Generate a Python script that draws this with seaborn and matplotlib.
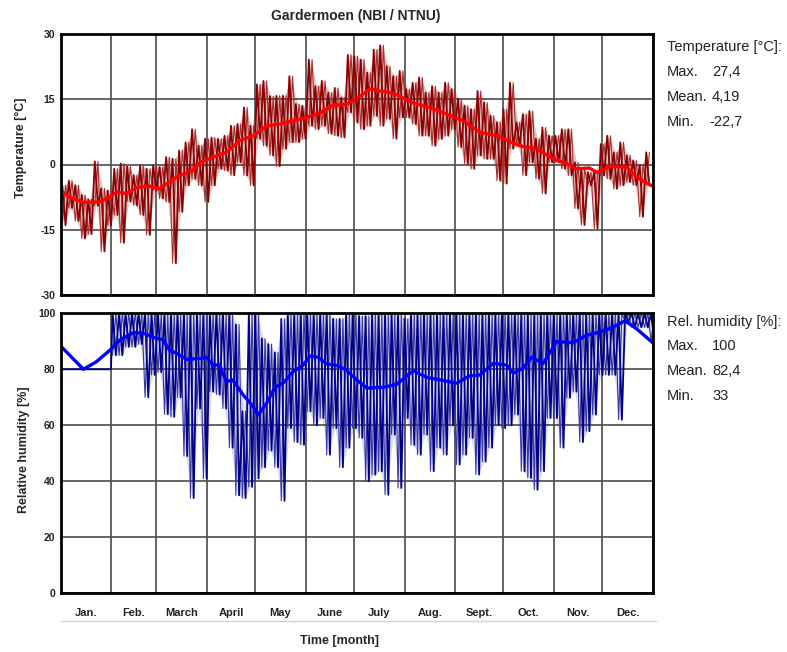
import numpy as np
import pandas as pd
import matplotlib
matplotlib.use("Agg")
import matplotlib.pyplot as plt
import seaborn as sns
from matplotlib.lines import Line2D

# ---------------- data ----------------
month_labels = ["Jan.", "Feb.", "March", "April", "May", "June", "July",
                "Aug.", "Sept.", "Oct.", "Nov.", "Dec."]
month_start_days = [0, 31, 59, 90, 120, 151, 181, 212, 243, 273, 304, 334, 365]

temp_ticks = [-30, -15, 0, 15, 30]
hum_ticks = [0, 20, 40, 60, 80, 100]

# temperature: 4-day bins (start day), upper / lower envelope of hourly values
temp_bin_start = list(range(0, 361, 4))
temp_hi = [-4.8, -3.7, -4.8, -7.0, -8.0, 0.7, -5.5, -6.0, -1.0, 0.2,
           -0.5, -2.5, -0.2, -1.0, -0.2, -0.6, 1.7, 1.3, 3.2, 5.1,
           8.1, 4.3, 5.9, 6.2, 5.9, 6.6, 8.9, 9.3, 13.1, 8.9,
           18.4, 19.2, 15.7, 15.8, 15.8, 20.3, 13.9, 13.5, 24.1, 18.0,
           19.2, 16.5, 17.6, 15.4, 25.2, 24.9, 24.1, 21.1, 26.4, 27.4,
           22.6, 20.3, 21.5, 17.3, 18.8, 20.0, 16.5, 18.0, 16.5, 18.8,
           17.3, 15.0, 13.5, 12.7, 16.9, 14.2, 11.2, 9.7, 12.7, 18.8,
           9.7, 11.6, 12.3, 5.9, 8.5, 6.6, 6.6, 8.1, 8.1, 0.5,
           -1.0, -1.8, -1.8, 4.7, 6.6, 2.8, 5.1, 2.1, 0.9, -0.2,
           2.8]
temp_lo = [-14.0, -10.0, -13.0, -17.0, -16.0, -9.5, -20.0, -14.0, -11.6, -18.0,
           -8.5, -9.4, -11.6, -16.2, -6.0, -7.8, -8.6, -22.7, -10.9, -4.8,
           -3.3, -4.8, -8.6, -4.8, -1.0, -1.4, -2.5, 0.5, -2.5, -4.8,
           5.9, 4.3, 2.1, -0.4, 3.6, 5.1, 5.1, 5.9, 8.9, 8.1,
           8.9, 7.1, 6.6, 6.2, 12.0, 9.7, 8.1, 8.9, 11.2, 8.9,
           10.5, 5.9, 10.8, 10.8, 9.3, 6.6, 6.6, 4.3, 5.9, 6.6,
           8.1, 4.0, 0.2, -1.0, 2.1, 1.3, 1.3, -3.7, -4.4, 3.6,
           4.3, -2.5, 0.5, -3.3, -6.7, 0.5, 0.5, -1.0, -2.5, -10.1,
           -13.9, -4.8, -14.7, -2.5, -3.3, -5.6, -4.8, -4.0, -4.8, -12.0,
           -4.8]

temp_mean_day = [0, 5, 14, 24, 30, 34.5, 40.7, 46.8, 54, 58, 61, 67, 72, 77.7, 82,
                 86, 94, 102, 110.5, 118.7, 127, 135, 143, 151.7, 160, 168, 176,
                 184.5, 190.7, 197, 205, 217.4, 227.7, 238, 248, 258.5, 268.8,
                 283, 293.5, 303.7, 312, 318, 326, 330.5, 339, 349, 355, 365]
temp_mean_val = [-5.9, -7.5, -8.7, -8.6, -7.5, -6.3, -6.7, -5.3, -4.9, -5.3, -5.6,
                 -3.9, -2.8, -1.9, -1.2, 0.5, 1.7, 2.8, 5.5, 6.6, 8.9, 9.3, 10.0,
                 10.8, 11.9, 13.6, 13.8, 15.7, 17.4, 16.9, 16.4, 14.1, 13.1, 11.6,
                 10.1, 7.4, 6.6, 4.3, 3.6, 1.3, 0.2, -1.0, -0.8, -1.8, -0.4, -0.6,
                 -2.9, -5.0]

# humidity: January filled with constant 80, then 4-day bins from Feb 1
hum_jan_day = [0, 31]
hum_jan_val = [80, 80]
hum_bin_start = list(range(31, 364, 4))
hum_hi = [100, 100, 100, 100, 100, 100, 100, 100, 100, 100,
          100, 100, 100, 100, 100, 100, 100, 100, 100, 96,
          65, 100, 100, 91, 89, 86, 98, 100, 100, 100,
          100, 100, 100, 100, 98, 98, 100, 100, 99, 99,
          100, 100, 100, 100, 100, 98, 100, 100, 100, 100,
          100, 100, 100, 100, 100, 100, 100, 100, 100, 100,
          100, 100, 100, 100, 100, 100, 100, 100, 100, 100,
          100, 100, 100, 100, 100, 100, 100, 100, 100, 100,
          100, 100, 100, 100]
hum_lo = [85, 85, 88, 88, 89, 70, 78, 79, 64, 63,
          70, 49, 34, 66, 41, 72, 71, 66, 52, 35,
          34, 38, 41, 45, 51, 45, 33, 59, 54, 53,
          65, 60, 62.6, 49.5, 59, 45, 52, 59, 55.5, 40,
          42.4, 43.6, 35.2, 56.7, 37.6, 62.6, 53, 49.5, 56.7, 43.6,
          52, 49.5, 60, 46, 49.5, 55.5, 42.4, 47, 52, 60,
          59, 60, 63.8, 43.6, 41.2, 37, 43.6, 62.6, 62.6, 52,
          69.8, 72, 54, 57.9, 63.8, 78, 78, 78, 62, 97,
          95, 95, 95, 90]

hum_mean_day = [0, 14, 22, 30.5, 36.6, 44.8, 51, 57, 63, 67, 73.5, 77.7, 85.9, 90,
                94, 98, 102, 106, 112.6, 117.8, 121.8, 127, 132, 137, 143.4, 149.6,
                153.7, 158.8, 164, 170, 176, 182.5, 188.7, 199, 207, 217.4, 225.6,
                236, 244, 252, 258.5, 266.7, 275, 279, 285, 290.4, 297.5, 305.8,
                316, 324, 332.5, 340.7, 347.9, 355, 365]
hum_mean_val = [88.3, 80, 82.7, 86.9, 90.5, 93.1, 92.9, 91.4, 90.5, 86.9, 85.1, 83.5,
                83.9, 84.3, 81.5, 81.5, 75.6, 76.2, 70.8, 67.3, 63.7, 67.9, 73.5, 75,
                79.2, 81.5, 84.8, 84.3, 81.9, 81.4, 79.8, 76.2, 73.3, 73.6, 74.6,
                79.5, 77.1, 76, 75, 77.6, 78, 82.1, 81.5, 78.6, 80.4, 84.3, 82.1,
                89.9, 89.5, 92.1, 93.3, 95.1, 97.3, 94.5, 89.5]

stats_temp = ["27,4", "4,19", "-22,7"]
stats_hum = ["100", "82,4", "33"]

# ---------------- build tables ----------------
def zigzag(starts, hi, lo, phase=0):
    xs, ys = [], []
    for s, h, l in zip(starts, hi, lo):
        xs += [s + 1, s + 3]
        ys += [h, l] if phase == 0 else [l, h]
    return xs, ys

tx, ty = zigzag(temp_bin_start, temp_hi, temp_lo)
tx2, ty2 = zigzag(temp_bin_start, temp_hi, temp_lo, phase=1)
df_temp = pd.DataFrame({"day": tx, "value": ty})
df_temp2 = pd.DataFrame({"day": tx2, "value": ty2})
df_temp_mean = pd.DataFrame({"day": temp_mean_day, "value": temp_mean_val})

hx, hy = zigzag(hum_bin_start, hum_hi, hum_lo)
hx2, hy2 = zigzag(hum_bin_start, hum_hi, hum_lo, phase=1)
df_hum = pd.DataFrame({"day": hum_jan_day + hx, "value": hum_jan_val + hy})
df_hum2 = pd.DataFrame({"day": hx2, "value": hy2})
df_hum_mean = pd.DataFrame({"day": hum_mean_day, "value": hum_mean_val})

# ---------------- figure ----------------
sns.set_style("white")
plt.rcParams["font.family"] = ["Liberation Sans", "DejaVu Sans"]

W, H = 787, 652
fig = plt.figure(figsize=(W / 100, H / 100), dpi=100)

def axes_px(left, top, right, bottom):
    return fig.add_axes([left / W, 1 - bottom / H, (right - left) / W, (bottom - top) / H])

ax1 = axes_px(60.7, 34, 652.7, 295)
ax2 = axes_px(60.7, 313.3, 652.7, 593.3)

RAW_T, MEAN_T = "#8B0000", "#FF0000"
RAW_H, MEAN_H = "#00008B", "#0000FF"

# soft envelope shading behind the hourly traces
ax1.fill_between([s + 2 for s in temp_bin_start], temp_lo, temp_hi,
                 color=RAW_T, alpha=0.22, lw=0, zorder=2.5)
ax2.fill_between([s + 2 for s in hum_bin_start], hum_lo, hum_hi,
                 color=RAW_H, alpha=0.14, lw=0, zorder=2.5)

sns.lineplot(data=df_temp2, x="day", y="value", ax=ax1, color="#a83030",
             lw=0.8, estimator=None, sort=False, zorder=3)
sns.lineplot(data=df_temp, x="day", y="value", ax=ax1, color=RAW_T,
             lw=1.3, estimator=None, sort=False, zorder=3)
sns.lineplot(data=df_temp_mean, x="day", y="value", ax=ax1, color=MEAN_T,
             lw=2.4, estimator=None, sort=False, zorder=4)

sns.lineplot(data=df_hum2, x="day", y="value", ax=ax2, color="#3838a0",
             lw=0.8, estimator=None, sort=False, zorder=3)
sns.lineplot(data=df_hum, x="day", y="value", ax=ax2, color=RAW_H,
             lw=1.3, estimator=None, sort=False, zorder=3)
sns.lineplot(data=df_hum_mean, x="day", y="value", ax=ax2, color=MEAN_H,
             lw=2.4, estimator=None, sort=False, zorder=4)

month_centers = [(a + b) / 2 for a, b in zip(month_start_days[:-1], month_start_days[1:])]

for ax, ticks in ((ax1, temp_ticks), (ax2, hum_ticks)):
    ax.set_xlim(month_start_days[0], month_start_days[-1])
    ax.set_ylim(ticks[0], ticks[-1])
    ax.set_yticks(ticks)
    ax.set_yticklabels([str(t) for t in ticks], fontsize=7.5, fontweight="bold",
                       color="#222222")
    ax.set_xticks(month_start_days)
    ax.grid(True, which="major", color="#4a4a4a", lw=1.2)
    ax.set_axisbelow(True)
    ax.set_xlabel("")
    ax.set_ylabel("")
    for sp in ax.spines.values():
        sp.set_visible(True)
        sp.set_linewidth(2.0)
        sp.set_color("black")
        sp.set_zorder(6)
    ax.tick_params(axis="y", length=0, pad=4)

ax1.set_xticklabels([])
ax1.tick_params(axis="x", length=0)

ax2.set_xticklabels([])
ax2.tick_params(axis="x", which="major", length=20, color="#d2d2d2", width=1, direction="out")
ax2.set_xticks(month_centers, minor=True)
ax2.set_xticklabels(month_labels, minor=True, fontsize=8, fontweight="bold", color="#222222")
ax2.tick_params(axis="x", which="minor", length=0, pad=10.5)
ax2.add_line(Line2D([0, 1.005], [-0.1, -0.1], transform=ax2.transAxes,
                    color="#d2d2d2", lw=1, clip_on=False))

# texts
def ftext(x, y, s, **kw):
    fig.text(x / W, 1 - y / H, s, va="center", **kw)

ftext(355.5, 16, "Gardermoen (NBI / NTNU)", ha="center", fontsize=10, fontweight="bold")
ftext(20.5, 147.5, "Temperature [°C]", ha="center", rotation=90, fontsize=9, fontweight="bold")
ftext(24, 450, "Relative humidity [%]", ha="center", rotation=90, fontsize=9, fontweight="bold")
ftext(340, 641, "Time [month]", ha="center", fontsize=9, fontweight="bold")

txt = dict(ha="left", fontsize=10.5, color="#222222")
ftext(667, 47.5, "Temperature [°C]:", **txt)
for i, (lab, val) in enumerate(zip(["Max.", "Mean.", "Min."], stats_temp)):
    ftext(667, 72.5 + 24.5 * i, lab, **txt)
    ftext(712 if not val.startswith("-") else 709, 72.5 + 24.5 * i, val, **txt)
ftext(667, 322, "Rel. humidity [%]:", **txt)
for i, (lab, val) in enumerate(zip(["Max.", "Mean.", "Min."], stats_hum)):
    ftext(667, 346.5 + 24.5 * i, lab, **txt)
    ftext(712, 346.5 + 24.5 * i, val, **txt)

fig.savefig("out.png", dpi=100)
